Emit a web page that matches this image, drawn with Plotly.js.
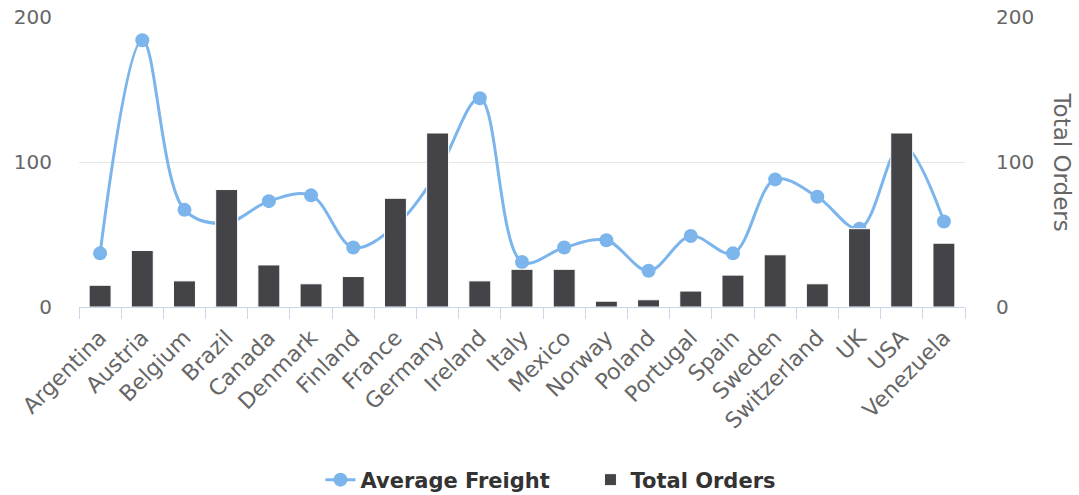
<!DOCTYPE html>
<html>
<head>
<meta charset="utf-8">
<script src="https://cdn.plot.ly/plotly-3.0.1.min.js"></script>
<style>html,body{margin:0;padding:0;background:#fff;}#chart{width:1079px;height:495px;}</style>
</head>
<body>
<div id="chart"></div>
<script>
var countries = ["Argentina","Austria","Belgium","Brazil","Canada","Denmark","Finland","France","Germany","Ireland","Italy","Mexico","Norway","Poland","Portugal","Spain","Sweden","Switzerland","UK","USA","Venezuela"];
var averageFreight = [37, 184, 67, 58, 73, 77, 41, 56, 93, 144, 31, 41, 46, 25, 49, 37, 88, 76, 54, 112, 59];
var totalOrders = [15, 39, 18, 81, 29, 16, 21, 75, 120, 18, 26, 26, 4, 5, 11, 22, 36, 16, 54, 120, 44];
var yTicks = [0, 100, 200];
var rightAxisTitle = "Total Orders";

var FONT = "DejaVu Sans, Verdana, sans-serif";

var traces = [
  {
    type: "scatter", mode: "lines+markers", name: "Average Freight",
    x: countries, y: averageFreight, yaxis: "y",
    line: {color: "#7cb5ec", width: 3, shape: "spline", smoothing: 1},
    marker: {color: "#7cb5ec", size: 14},
    cliponaxis: false
  },
  {
    type: "bar", name: "Total Orders",
    x: countries, y: totalOrders, yaxis: "y2",
    marker: {color: "#434348", line: {color: "#ffffff", width: 1}}
  }
];

var layout = {
  width: 1079, height: 495,
  margin: {l: 79, r: 114, t: 17, b: 188},
  paper_bgcolor: "#fff", plot_bgcolor: "#fff",
  font: {family: FONT, size: 20, color: "#666666"},
  showlegend: true,
  bargap: 0.48,
  legend: {
    orientation: "h", xref: "container", yref: "container",
    x: 0.297, xanchor: "left", y: 0.0303, yanchor: "middle",
    entrywidth: 225, entrywidthmode: "pixels",
    font: {family: FONT, size: 21, color: "#333333", weight: "bold"}
  },
  xaxis: {
    type: "category", range: [-0.5, countries.length - 0.5], tickangle: -45, automargin: false,
    showline: true, linecolor: "#ccd6eb", linewidth: 1,
    ticks: "outside", tickson: "boundaries", ticklen: 11, tickcolor: "#ccd6eb",
    showgrid: false, zeroline: false,
    ticklabelstandoff: 8,
    tickfont: {family: FONT, size: 22, color: "#666666"}
  },
  yaxis: {
    range: [0, 200], tickvals: yTicks, ticktext: yTicks.map(String),
    automargin: false,
    showgrid: true, gridcolor: "#e6e6e6", gridwidth: 1,
    zeroline: false, showline: false, ticks: "",
    ticklabelstandoff: 26,
    tickfont: {family: FONT, size: 20, color: "#666666"}
  },
  yaxis2: {
    overlaying: "y", side: "right", automargin: false,
    range: [0, 200], tickvals: yTicks, ticktext: yTicks.map(String),
    showgrid: false, zeroline: false, showline: false, ticks: "",
    ticklabelstandoff: 30,
    tickfont: {family: FONT, size: 20, color: "#666666"}
  },
  annotations: [{
    text: rightAxisTitle, textangle: 90, showarrow: false,
    xref: "paper", yref: "paper", x: 1.109, y: 0.5, xanchor: "center", yanchor: "middle",
    font: {family: FONT, size: 23, color: "#666666"}
  }]
};

Plotly.newPlot("chart", traces, layout, {displayModeBar: false, staticPlot: true});
</script>
</body>
</html>
